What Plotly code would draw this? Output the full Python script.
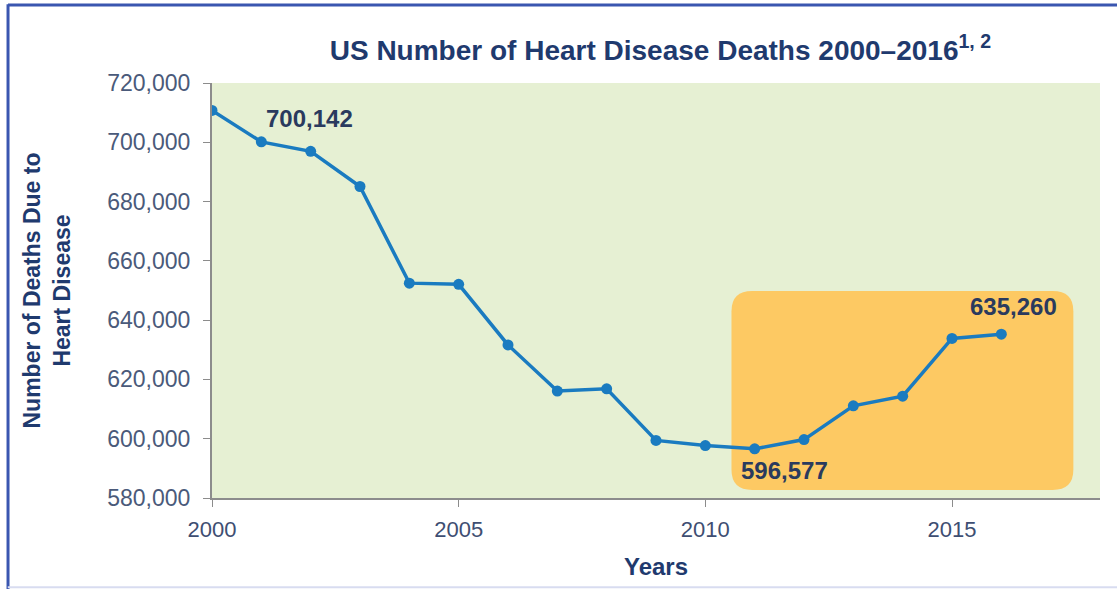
import plotly.graph_objects as go

years = list(range(2000, 2017))
deaths = [710760, 700142, 696947, 685089, 652486, 652091, 631636, 616067, 616828,
          599413, 597689, 596577, 599711, 611105, 614348, 633842, 635260]
y_ticks = [580000, 600000, 620000, 640000, 660000, 680000, 700000, 720000]
x_ticks = [2000, 2005, 2010, 2015]
labels = [(2001, 700142, "700,142"), (2011, 596577, "596,577"), (2016, 635260, "635,260")]
highlight_x = [2010.53, 2017.46]
highlight_y = [582700, 649800]

NAVY = "#1F3A6E"
FONT = "Liberation Sans, Arial, sans-serif"

fig = go.Figure()
fig.add_trace(go.Scatter(
    x=years, y=deaths, mode="lines+markers",
    line=dict(color="#1A7BC0", width=3.5),
    marker=dict(color="#1A7BC0", size=11),
    showlegend=False, hoverinfo="skip"))

# rounded highlight rectangle
x0, x1 = highlight_x
y0, y1 = highlight_y
rx, ry = 0.42, 6800
path = (f"M {x0+rx},{y0} L {x1-rx},{y0} Q {x1},{y0} {x1},{y0+ry} "
        f"L {x1},{y1-ry} Q {x1},{y1} {x1-rx},{y1} L {x0+rx},{y1} "
        f"Q {x0},{y1} {x0},{y1-ry} L {x0},{y0+ry} Q {x0},{y0} {x0+rx},{y0} Z")
fig.add_shape(type="path", path=path, xref="x", yref="y",
              fillcolor="#FDC963", line=dict(width=0), layer="below")

# outer frame lines
fig.add_shape(type="line", xref="paper", yref="paper", x0=-0.2297, x1=1.02, y0=1.188, y1=1.188,
              line=dict(color="#3A56B0", width=3))
fig.add_shape(type="line", xref="paper", yref="paper", x0=-0.2297, x1=-0.2297, y0=1.19, y1=-0.22,
              line=dict(color="#3A56B0", width=3))
fig.add_shape(type="line", xref="paper", yref="paper", x0=-0.23, x1=1.02, y0=-0.215, y1=-0.215,
              line=dict(color="#D8DCF0", width=2))

offsets = {"700,142": (48, -23), "596,577": (30, 22), "635,260": (12, -28)}
for x, y, t in labels:
    ax, ay = offsets[t]
    fig.add_annotation(x=x, y=y, text=f"<b>{t}</b>", showarrow=False,
                       xshift=ax, yshift=-ay,
                       font=dict(family=FONT, size=24, color="#2A3A5E"))

fig.update_layout(
    width=1117, height=589,
    margin=dict(l=212, r=17, t=83, b=91),
    paper_bgcolor="white", plot_bgcolor="#E6F0D3",
    title=dict(text="<b>US Number of Heart Disease Deaths 2000–2016<sup>1, 2</sup></b>",
               x=0.505, xref="paper", xanchor="center", y=0.915, yanchor="middle",
               font=dict(family=FONT, size=28, color=NAVY)),
    xaxis=dict(range=[2000, 2018], tickvals=x_ticks, ticktext=[str(v) for v in x_ticks],
               showgrid=False, zeroline=False, showline=True, linecolor="#8C8C8C", linewidth=2,
               ticks="outside", ticklen=7, tickcolor="#8C8C8C", tickwidth=1,
               ticklabelstandoff=4,
               tickfont=dict(family=FONT, size=22, color="#3E4E72"),
               title=dict(text="<b>Years</b>", font=dict(family=FONT, size=24, color=NAVY), standoff=17)),
    yaxis=dict(range=[580000, 720000], tickvals=y_ticks,
               ticktext=[f"{v:,}" for v in y_ticks],
               showgrid=False, zeroline=False, showline=True, linecolor="#8C8C8C", linewidth=2,
               ticks="outside", ticklen=7, tickcolor="#8C8C8C", tickwidth=1,
               ticklabelstandoff=8,
               tickfont=dict(family=FONT, size=23, color="#4A5A7A"),
               title=dict(text="<b>Number of Deaths Due to<br>Heart Disease</b>",
                          font=dict(family=FONT, size=23, color=NAVY), standoff=30)),
)

fig.write_html("out.html")
